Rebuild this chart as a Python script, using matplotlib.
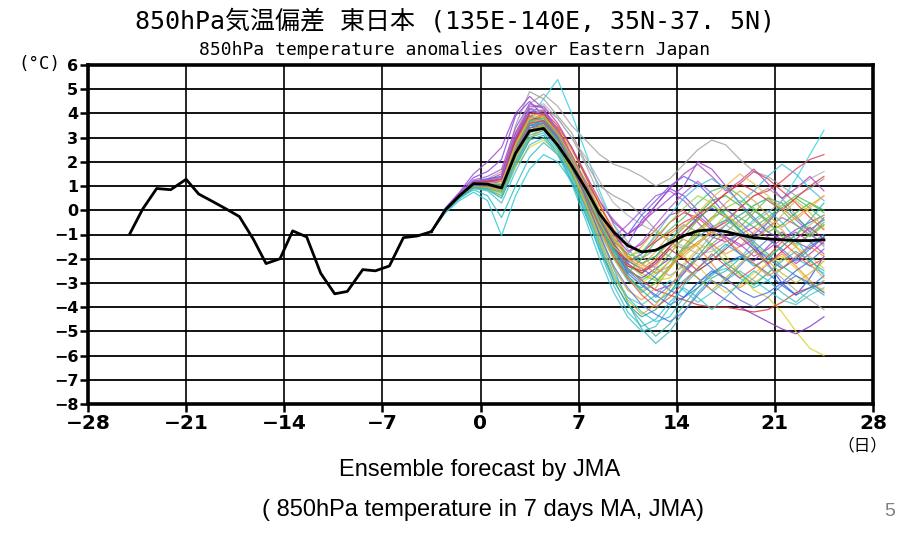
import matplotlib
matplotlib.use('Agg')
import matplotlib.pyplot as plt
import numpy as np

# observed 7-day running mean (black line up to the forecast start)
obs_days = [-25, -24.1, -23.1, -22.1, -21, -20.1, -19.1, -18.1, -17.2, -16.2,
            -15.3, -14.3, -13.4, -12.4, -11.4, -10.4, -9.5, -8.4, -7.5, -6.5,
            -5.5, -4.5, -3.5]
obs_vals = [-0.95, 0.05, 0.9, 0.85, 1.28, 0.67, 0.36, 0.04, -0.26, -1.2,
            -2.2, -2.0, -0.85, -1.1, -2.6, -3.45, -3.35, -2.45, -2.5, -2.3,
            -1.13, -1.06, -0.88]

# forecast days (ensemble members and ensemble mean)
fc_days = np.arange(-3.5, 25.0, 1.0)
ens_mean = [-0.88, 0.02, 0.6, 1.1, 1.08, 0.92, 2.35, 3.28, 3.38, 2.7,
            1.85, 0.9, -0.15, -0.9, -1.45, -1.72, -1.65, -1.35, -1.05, -0.85,
            -0.8, -0.88, -1.02, -1.13, -1.18, -1.22, -1.25, -1.25, -1.22]

members = [
    [-0.88, -0.1, 0.4, 0.75, 0.4, -1.05, 0.6, 1.7, 2.3, 2.0, 1.2, 0.2, -1.2, -2.6, -3.6, -4.2, -4.6, -4.4, -3.6, -3.0, -2.6, -2.4, -2.8, -3.2, -2.9, -2.4, -2.0, -2.3, -2.6],
    [-0.88, -0.05, 0.5, 0.85, 0.6, -0.3, 1.0, 2.2, 2.8, 2.3, 1.5, 0.4, -1.0, -2.4, -3.8, -4.9, -5.5, -5.0, -4.2, -3.4, -2.8, -2.5, -2.0, -1.6, -1.9, -2.4, -2.0, -1.4, -1.0],
    [-0.88, 0.0, 0.6, 1.05, 1.0, 1.0, 2.6, 3.8, 4.6, 5.4, 4.0, 2.4, 0.8, -0.6, -1.6, -2.2, -1.9, -1.2, -0.6, -0.9, -1.5, -2.2, -2.0, -1.3, -0.5, 0.4, 1.3, 2.3, 3.3],
    [-0.88, 0.05, 0.65, 1.2, 1.3, 1.6, 3.2, 4.4, 4.8, 4.3, 3.5, 2.9, 2.3, 1.9, 1.7, 1.4, 1.0, 1.3, 1.9, 2.5, 2.9, 2.7, 2.1, 1.6, 1.4, 1.0, 0.6, 0.9, 1.3],
    [-0.88, 0.0, 0.6, 1.1, 1.2, 1.4, 3.5, 4.9, 4.6, 3.9, 3.2, 2.0, 1.0, 0.6, 0.3, -0.2, -0.8, -1.3, -1.6, -1.4, -0.9, -0.4, 0.1, 0.6, 0.9, 0.5, -0.2, -0.9, -1.5],
    [-0.88, 0.1, 0.75, 1.5, 2.0, 2.6, 4.0, 4.7, 4.2, 3.2, 2.2, 1.2, 0.3, -0.4, -1.0, -0.5, 0.0, 0.5, 1.0, 2.0, 1.7, 1.0, 0.3, -0.3, -0.9, -1.2, -0.8, -0.5, -0.2],
    [-0.88, 0.08, 0.7, 1.35, 1.6, 2.1, 3.9, 4.5, 3.9, 2.9, 1.8, 0.6, -0.5, -1.2, -1.4, -0.4, 0.2, 0.9, 0.6, 0.0, -0.6, -1.2, -1.8, -2.1, -1.5, -0.9, -1.3, -1.6, -1.1],
    [-0.88, 0.0, 0.6, 1.15, 1.2, 1.1, 2.8, 3.9, 3.7, 2.8, 1.9, 0.8, -0.4, -1.6, -2.3, -2.6, -2.1, -1.5, -0.9, -0.3, 0.1, -0.3, -0.8, -1.4, -2.2, -3.0, -3.5, -2.8, -1.9],
    [-0.88, 0.02, 0.58, 1.05, 1.0, 0.8, 2.3, 3.3, 3.5, 2.9, 2.0, 0.8, -0.3, -1.2, -1.9, -2.2, -1.9, -1.3, -0.7, -0.2, 0.4, 0.6, 0.2, -0.4, -0.9, -0.6, -0.1, 0.3, 0.0],
    [-0.88, -0.02, 0.5, 0.95, 0.9, 0.6, 1.9, 2.9, 3.6, 3.4, 2.6, 1.5, 0.3, -0.9, -2.0, -2.6, -2.9, -2.8, -2.2, -1.6, -1.4, -1.9, -2.6, -3.3, -3.6, -4.2, -5.0, -5.7, -6.0],
    [-0.88, 0.0, 0.55, 1.0, 1.05, 0.9, 2.4, 3.6, 3.9, 3.3, 2.5, 1.4, 0.2, -0.9, -1.9, -2.5, -2.3, -1.6, -1.2, -1.5, -2.2, -2.9, -3.2, -2.8, -2.2, -1.8, -2.3, -2.9, -3.4],
    [-0.88, 0.0, 0.6, 1.1, 1.15, 1.0, 2.6, 3.7, 4.0, 3.4, 2.3, 1.0, -0.3, -1.5, -2.4, -2.9, -3.3, -3.5, -3.7, -3.9, -4.0, -4.0, -4.1, -4.2, -4.1, -3.8, -3.4, -3.2, -3.0],
    [-0.88, 0.05, 0.65, 1.15, 1.2, 1.2, 2.8, 3.9, 3.6, 2.7, 1.7, 0.6, -0.6, -1.6, -2.1, -1.8, -1.2, -0.5, -0.1, -0.3, -0.8, -0.5, 0.1, 0.6, 0.8, 1.2, 1.7, 2.1, 2.3],
    [-0.88, 0.02, 0.62, 1.15, 1.25, 1.5, 3.2, 4.2, 3.9, 3.0, 2.1, 1.2, 0.0, -1.0, -1.7, -1.4, -0.8, -0.2, 0.0, -0.5, -1.1, -1.3, -1.0, -0.7, -1.1, -1.7, -2.2, -1.8, -1.3],
    [-0.88, -0.02, 0.5, 0.95, 0.85, 0.5, 1.8, 2.9, 3.1, 2.4, 1.2, -0.2, -1.6, -2.9, -3.9, -4.4, -4.1, -3.4, -2.6, -1.9, -1.2, -0.6, -0.2, 0.2, 0.5, 0.3, -0.3, -0.8, -0.4],
    [-0.88, 0.0, 0.58, 1.05, 1.0, 0.95, 2.4, 3.4, 3.7, 3.1, 2.2, 1.0, -0.2, -1.3, -2.2, -2.7, -2.9, -2.4, -1.7, -1.0, -0.4, 0.1, 0.4, 0.1, -0.5, -1.1, -1.5, -1.0, -0.6],
    [-0.88, 0.03, 0.62, 1.1, 1.1, 1.0, 2.5, 3.5, 3.6, 2.9, 2.0, 0.9, -0.3, -1.4, -2.1, -2.4, -2.8, -3.3, -3.6, -3.2, -2.6, -2.2, -1.9, -2.2, -2.6, -3.1, -3.5, -3.2, -2.7],
    [-0.88, 0.0, 0.58, 1.08, 1.05, 0.9, 2.4, 3.4, 3.5, 2.8, 1.8, 0.7, -0.5, -1.6, -2.5, -2.8, -2.4, -2.0, -2.3, -2.8, -3.3, -3.7, -4.0, -4.3, -4.6, -4.9, -5.1, -4.8, -4.4],
    [-0.88, 0.02, 0.6, 1.1, 1.15, 1.2, 2.9, 4.2, 4.4, 3.8, 3.0, 2.2, 1.2, 0.3, -0.2, -0.6, -0.9, -1.2, -1.5, -1.8, -1.7, -1.3, -0.9, -0.5, -0.1, 0.4, 0.9, 1.3, 1.6],
    [-0.88, 0.0, 0.55, 1.0, 0.95, 0.85, 2.0, 3.0, 3.3, 2.8, 1.9, 0.7, -0.6, -1.8, -2.8, -3.3, -3.0, -2.4, -1.7, -1.4, -1.6, -2.1, -2.7, -3.0, -2.6, -2.0, -1.5, -1.9, -2.4],
    [-0.88, 0.02, 0.6, 1.1, 1.1, 1.05, 2.6, 3.6, 3.4, 2.6, 1.6, 0.4, -0.9, -2.0, -2.6, -2.0, -1.3, -0.8, -0.3, 0.3, 0.8, 1.0, 0.6, 0.0, -0.4, 0.1, 0.5, 0.1, -0.4],
    [-0.88, -0.03, 0.52, 0.98, 0.9, 0.7, 2.1, 3.2, 3.4, 2.6, 1.4, 0.0, -1.5, -2.8, -3.6, -3.9, -3.5, -2.9, -3.3, -3.8, -3.4, -2.9, -2.5, -2.9, -3.3, -3.7, -3.9, -3.5, -3.2],
    [-0.88, 0.03, 0.65, 1.15, 1.2, 1.2, 2.9, 4.0, 4.1, 3.5, 2.6, 1.4, 0.2, -0.8, -1.5, -1.7, -1.3, -0.9, -0.5, -0.2, 0.2, 0.7, 1.1, 1.6, 1.3, 0.8, 0.3, -0.3, -0.8],
    [-0.88, 0.0, 0.58, 1.05, 1.0, 0.9, 2.4, 3.5, 3.8, 3.2, 2.3, 1.2, 0.0, -1.1, -2.0, -2.3, -1.7, -1.0, -0.6, -0.9, -1.4, -1.8, -1.5, -0.9, -0.4, -0.8, -1.5, -2.2, -2.8],
    [-0.88, 0.05, 0.65, 1.2, 1.3, 1.4, 3.0, 4.1, 4.0, 3.1, 2.0, 0.7, -0.6, -1.4, -1.0, -0.2, 0.4, 1.0, 1.4, 1.1, 0.5, -0.2, -0.9, -1.5, -2.0, -2.4, -2.0, -1.5, -1.1],
    [-0.88, 0.0, 0.6, 1.1, 1.05, 0.95, 2.5, 3.6, 3.7, 3.0, 2.0, 0.9, -0.3, -1.5, -2.4, -2.9, -3.3, -3.1, -2.6, -2.0, -1.5, -1.1, -1.4, -1.9, -1.6, -1.2, -0.9, -1.3, -1.8],
    [-0.88, 0.02, 0.6, 1.1, 1.1, 1.1, 2.7, 3.7, 3.5, 2.7, 1.7, 0.5, -0.8, -2.0, -2.9, -3.2, -2.7, -2.1, -1.6, -1.1, -0.7, -0.4, -0.8, -1.3, -1.8, -2.3, -2.7, -3.1, -3.5],
    [-0.88, 0.0, 0.56, 1.02, 1.0, 0.9, 2.3, 3.3, 3.5, 2.9, 1.9, 0.7, -0.5, -1.7, -2.7, -3.4, -3.0, -2.3, -1.5, -0.8, -0.3, 0.0, -0.3, -0.7, -0.3, 0.2, 0.6, 0.3, -0.1],
    [-0.88, 0.04, 0.66, 1.25, 1.4, 1.7, 3.4, 4.4, 4.2, 3.3, 2.2, 1.0, -0.2, -1.1, -0.6, 0.0, 0.6, 0.8, 0.4, -0.2, -0.7, -1.1, -1.5, -1.2, -0.7, -0.3, -0.6, -1.0, -1.4],
    [-0.88, -0.02, 0.5, 0.9, 0.85, 0.7, 1.8, 2.6, 2.9, 2.4, 1.6, 0.5, -0.8, -2.0, -2.8, -3.0, -2.6, -2.1, -1.9, -2.3, -2.9, -3.4, -3.1, -2.6, -2.2, -1.9, -2.4, -3.0, -3.3],
    [-0.88, 0.02, 0.6, 1.1, 1.1, 1.0, 2.6, 3.7, 3.9, 3.2, 2.2, 1.0, -0.3, -1.5, -2.3, -2.5, -2.1, -1.5, -0.9, -0.4, 0.2, 0.7, 1.1, 0.8, 0.4, 0.0, 0.5, 1.0, 1.4],
    [-0.88, 0.0, 0.58, 1.05, 1.05, 1.0, 2.5, 3.5, 3.6, 3.0, 2.1, 0.9, -0.4, -1.6, -2.6, -3.1, -3.5, -3.9, -3.6, -3.0, -2.5, -2.8, -3.3, -3.6, -3.4, -3.0, -2.5, -2.1, -1.6],
    [-0.88, 0.02, 0.6, 1.1, 1.1, 1.0, 2.6, 3.8, 4.2, 3.8, 3.0, 1.9, 0.6, -0.6, -1.3, -1.9, -2.4, -2.7, -2.3, -1.7, -1.0, -0.6, -1.0, -1.6, -2.3, -2.8, -3.3, -3.7, -4.1],
    [-0.88, -0.04, 0.48, 0.9, 0.8, 0.3, 1.6, 2.7, 3.0, 2.3, 1.1, -0.4, -2.0, -3.4, -4.4, -5.0, -4.8, -4.0, -3.1, -2.5, -2.1, -1.5, -0.9, -0.4, 0.0, -0.5, -1.2, -2.0, -2.7],
    [-0.88, 0.0, 0.58, 1.05, 1.05, 1.0, 2.5, 3.6, 3.8, 3.2, 2.3, 1.2, 0.0, -1.1, -1.9, -1.7, -1.1, -0.5, 0.1, 0.6, 0.3, -0.3, -0.9, -1.4, -1.9, -1.5, -1.0, -0.6, -0.2],
    [-0.88, 0.03, 0.63, 1.15, 1.2, 1.2, 2.8, 3.9, 4.0, 3.3, 2.3, 1.1, -0.1, -1.2, -1.9, -2.2, -2.6, -2.3, -1.8, -1.3, -0.9, -1.2, -1.7, -2.2, -2.7, -2.4, -1.9, -1.5, -1.9],
    [-0.88, 0.02, 0.6, 1.1, 1.15, 1.3, 3.0, 4.3, 4.3, 3.6, 2.6, 1.5, 0.4, -0.5, -1.0, -0.6, 0.2, 0.9, 1.5, 1.9, 1.4, 0.8, 1.2, 1.7, 1.1, 0.5, 0.9, 1.4, 0.8],
    [-0.88, 0.0, 0.58, 1.05, 1.05, 1.0, 2.5, 3.5, 3.6, 2.9, 1.9, 0.7, -0.6, -1.7, -2.2, -1.8, -1.0, -0.2, 0.5, 1.0, 1.3, 0.9, 0.3, 0.8, 1.4, 1.9, 1.5, 0.9, 0.4],
    [-0.88, 0.01, 0.6, 1.1, 1.1, 1.1, 2.7, 3.8, 3.9, 3.2, 2.1, 0.8, -0.5, -1.6, -2.4, -2.9, -2.5, -1.8, -1.1, -0.4, 0.2, -0.2, -0.7, -0.1, 0.5, 0.0, -0.6, -1.1, -0.6],
    [-0.88, 0.0, 0.55, 1.0, 0.95, 0.8, 2.2, 3.2, 3.4, 2.7, 1.6, 0.3, -1.1, -2.4, -3.3, -3.7, -3.2, -2.4, -1.6, -0.9, -0.3, 0.3, 0.8, 0.4, -0.2, -0.7, -0.3, 0.2, 0.6],
    [-0.88, 0.03, 0.64, 1.15, 1.2, 1.3, 2.9, 4.0, 4.0, 3.2, 2.2, 1.0, -0.3, -1.4, -2.2, -2.6, -2.2, -1.6, -2.0, -2.5, -2.1, -1.6, -1.1, -1.6, -2.2, -1.7, -1.2, -0.7, -1.2],
    [-0.88, 0.0, 0.6, 1.08, 1.05, 0.95, 2.4, 3.5, 3.7, 3.1, 2.1, 0.9, -0.4, -1.5, -2.5, -3.0, -3.6, -3.1, -2.5, -1.9, -2.4, -2.9, -2.3, -1.7, -1.2, -1.6, -2.1, -1.6, -1.1],
    [-0.88, 0.02, 0.62, 1.12, 1.1, 1.05, 2.6, 3.7, 3.8, 3.1, 2.0, 0.7, -0.6, -1.8, -2.7, -3.3, -3.8, -3.4, -2.9, -2.4, -1.9, -1.4, -1.8, -2.3, -2.0, -1.5, -1.0, -0.4, 0.3],
    [-0.88, 0.0, 0.57, 1.05, 1.0, 0.9, 2.3, 3.4, 3.6, 3.0, 2.0, 0.8, -0.5, -1.5, -2.0, -1.5, -0.8, -1.3, -1.9, -1.4, -0.8, -0.2, -0.6, -1.2, -0.8, -0.2, 0.4, -0.1, -0.7],
    [-0.88, 0.04, 0.66, 1.2, 1.25, 1.35, 3.1, 4.2, 4.1, 3.3, 2.3, 1.1, -0.2, -1.3, -1.8, -1.3, -0.6, 0.1, 0.7, 1.2, 0.7, 0.1, -0.5, -1.0, -0.5, 0.1, -0.4, -0.9, -0.3],
    [-0.88, 0.0, 0.58, 1.06, 1.05, 1.0, 2.5, 3.6, 3.7, 3.0, 1.9, 0.6, -0.7, -1.9, -2.8, -3.5, -4.0, -3.6, -3.0, -2.4, -1.8, -2.3, -2.8, -2.4, -1.9, -1.3, -1.8, -2.3, -2.0],
    [-0.88, 0.02, 0.6, 1.1, 1.1, 1.0, 2.6, 3.7, 3.8, 3.1, 2.1, 0.9, -0.3, -1.3, -1.8, -2.0, -1.6, -1.9, -2.4, -2.0, -1.4, -0.9, -0.4, 0.0, -0.5, -1.0, -1.4, -1.0, -0.5],
    [-0.88, 0.01, 0.6, 1.1, 1.12, 1.1, 2.7, 3.8, 3.9, 3.2, 2.2, 1.0, -0.2, -1.2, -2.0, -2.4, -2.0, -1.3, -0.7, -0.1, 0.5, 1.0, 1.5, 1.1, 0.6, 0.1, -0.4, 0.1, 0.6],
    [-0.88, -0.03, 0.5, 0.92, 0.85, 0.6, 1.9, 3.0, 3.2, 2.5, 1.3, -0.1, -1.7, -3.1, -4.2, -4.8, -4.5, -3.8, -3.2, -3.6, -4.1, -3.6, -3.0, -2.5, -2.9, -3.4, -3.8, -3.3, -2.9],
    [-0.88, 0.0, 0.55, 1.0, 0.95, 0.8, 2.2, 3.3, 3.5, 2.8, 1.6, 0.2, -1.3, -2.7, -3.7, -4.3, -3.9, -3.2, -2.4, -2.8, -3.3, -2.8, -2.2, -1.7, -2.1, -2.6, -3.0, -2.6, -2.1],
    [-0.88, 0.01, 0.57, 1.03, 1.0, 0.9, 2.3, 3.4, 3.6, 3.0, 1.9, 0.5, -1.0, -2.3, -3.2, -3.9, -4.3, -4.6, -4.2, -3.5, -2.9, -3.2, -3.7, -4.0, -3.6, -3.1, -2.7, -3.0, -3.4],
    [-0.88, -0.02, 0.52, 0.95, 0.9, 0.75, 2.0, 3.1, 3.3, 2.6, 1.5, 0.1, -1.4, -2.9, -3.9, -4.6, -5.2, -4.7, -3.9, -3.2, -2.7, -2.2, -2.6, -3.1, -2.6, -2.1, -1.7, -2.1, -2.5],
]

member_colors = ['#22c8d8', '#2ab8c0', '#30d0e0', '#a0a0a0', '#9a9a9a', '#9a40d0',
                 '#8040e0', '#3050e8', '#30b040', '#d8d020', '#f09020', '#e03030',
                 '#e83850', '#d030a0', '#20a0a0', '#90d030', '#3070e0', '#8030c0',
                 '#b0b0b0', '#e0c840', '#40c060', '#40c8c8', '#e04040', '#f0a040',
                 '#5060f0', '#c040b0', '#30a8a8', '#50c050', '#a050e0', '#e8d030',
                 '#d83838', '#4068e0', '#a8a8a8', '#38c0d0', '#98d848', '#f08830',
                 '#b040c0', '#40b8e0', '#60c040', '#e0a030', '#c03060', '#5080e0',
                 '#20b0b0', '#d0c030', '#a060d0', '#e05050', '#70b070', '#f0b050',
                 '#30c0c8', '#d0b030', '#6070d0', '#40b0a0']

day_ticks = [-28, -21, -14, -7, 0, 7, 14, 21, 28]
temp_ticks = list(range(-8, 7))

fig = plt.figure(figsize=(9.01, 5.33), dpi=100)
ax = fig.add_axes([88 / 901, 1 - 404 / 533, 785 / 901, 339 / 533])

# grid lines
for t in temp_ticks:
    ax.axhline(t, color='black', lw=1.3, zorder=1)
for d in day_ticks[1:-1]:
    ax.axvline(d, color='black', lw=1.2, zorder=1)

# ensemble members
for vals, c in zip(members, member_colors):
    ax.plot(fc_days, vals, color=c, lw=0.9, alpha=0.8, zorder=2)

# observation + ensemble mean
ax.plot(obs_days, obs_vals, color='black', lw=2.0, zorder=3)
ax.plot(fc_days, ens_mean, color='black', lw=2.0, zorder=3)

ax.set_xlim(-28, 28)
ax.set_ylim(-8, 6)
ax.set_xticks(day_ticks)
ax.set_xticklabels([str(d).replace('-', '\u2212') for d in day_ticks])
ax.set_yticks(temp_ticks)
ax.set_yticklabels([str(t).replace('-', '\u2212') for t in temp_ticks])
ax.tick_params(axis='both', direction='out', length=6, width=1.8, pad=1)
ax.tick_params(axis='x', labelsize=14.5)
ax.tick_params(axis='y', labelsize=11.5)
for lab in ax.get_xticklabels() + ax.get_yticklabels():
    lab.set_fontweight('bold')
for s in ax.spines.values():
    s.set_linewidth(2.6)

# titles and labels
cjk = ['DejaVu Sans Mono', 'Noto Sans CJK JP']
fig.text(455 / 901, 1 - 21 / 533, '850hPa気温偏差 東日本 (135E-140E, 35N-37. 5N)',
         ha='center', va='center', fontsize=18, family=cjk)
fig.text(455 / 901, 1 - 50 / 533, '850hPa temperature anomalies over Eastern Japan',
         ha='center', va='center', fontsize=13, family='DejaVu Sans Mono')
fig.text(39 / 901, 1 - 64 / 533, '(°C)', ha='center', va='center', fontsize=12.5,
         family='DejaVu Sans Mono')
fig.text(862 / 901, 1 - 446 / 533, '（日）', ha='center', va='center', fontsize=12,
         family=['Noto Sans CJK JP', 'DejaVu Sans'])
fig.text(480 / 901, 1 - 470 / 533, 'Ensemble forecast by JMA', ha='center', va='center',
         fontsize=17, family='Liberation Sans')
fig.text(483 / 901, 1 - 510 / 533, '( 850hPa temperature in 7 days MA, JMA)', ha='center',
         va='center', fontsize=17, family='Liberation Sans')
fig.text(890 / 901, 1 - 512 / 533, '5', ha='center', va='center', fontsize=14,
         color='#808080', family='Liberation Sans')

fig.savefig('out.png', dpi=100)
